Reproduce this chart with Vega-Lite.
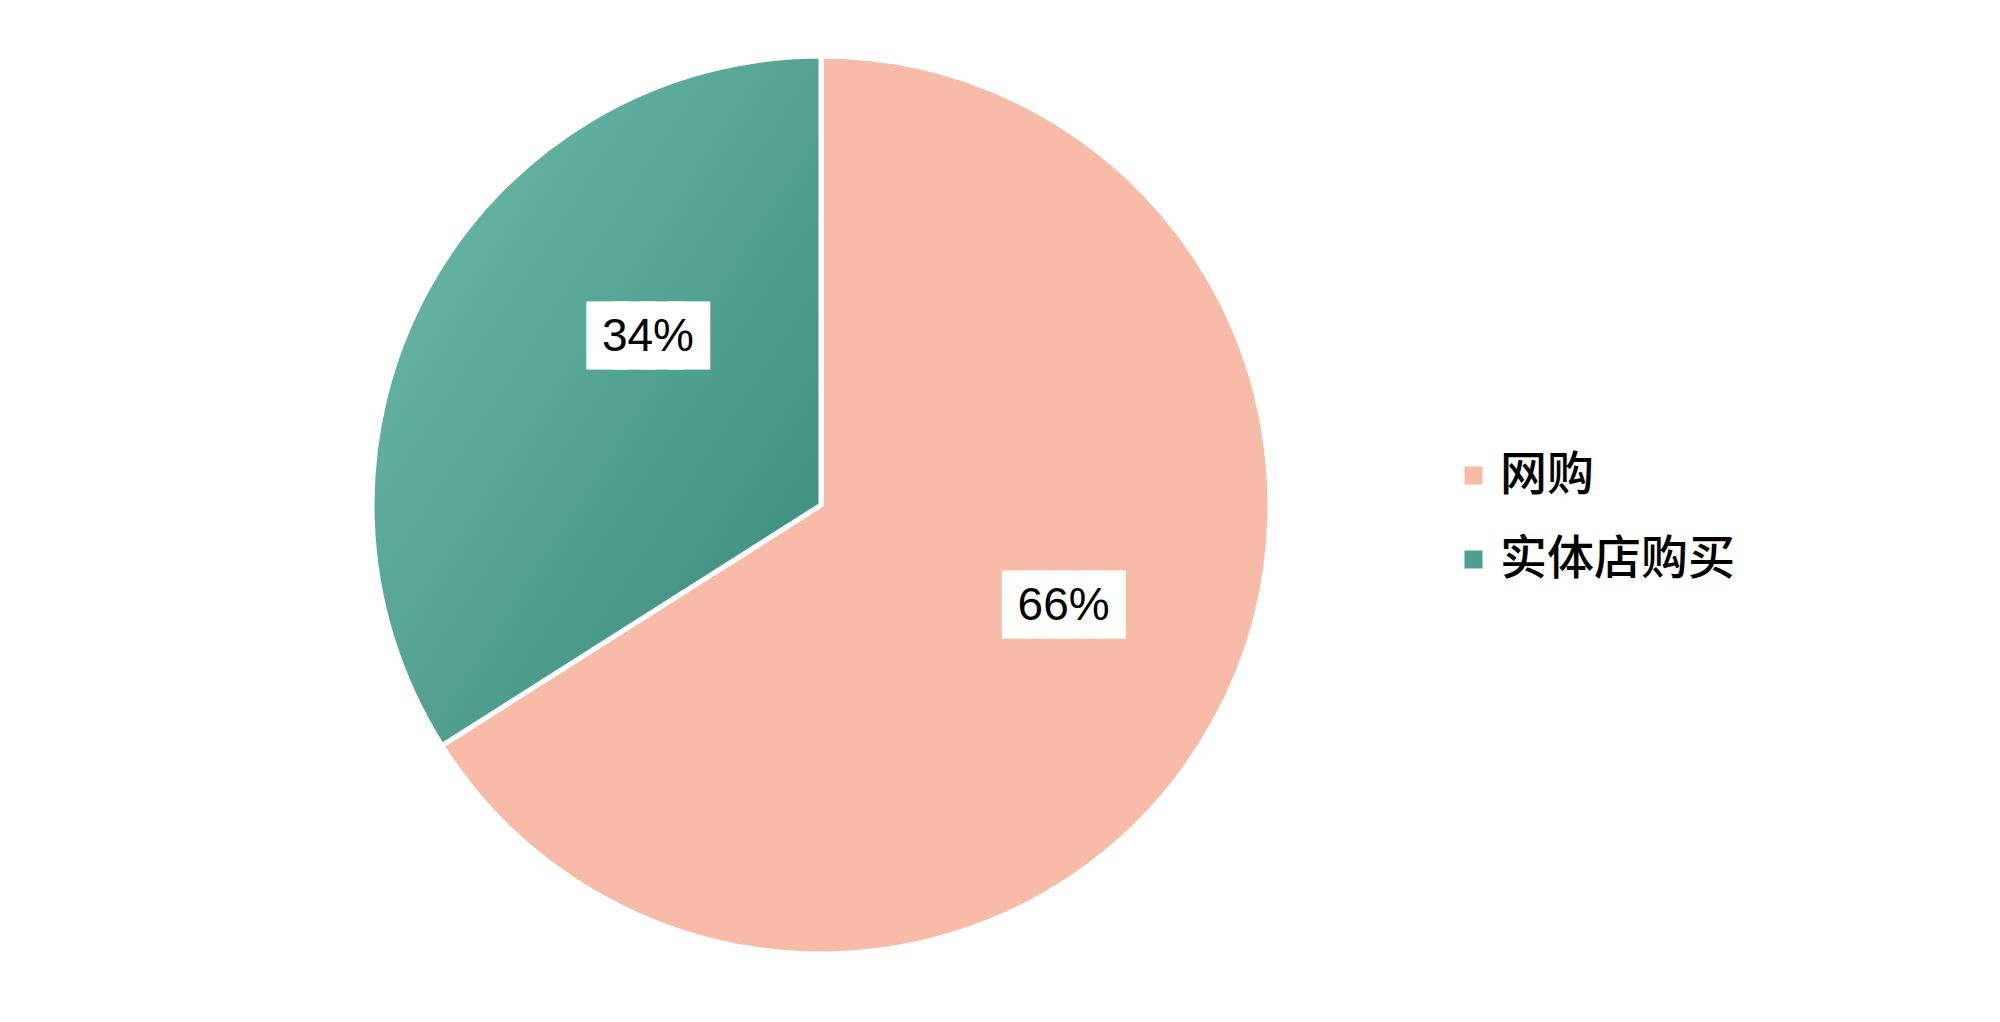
{
  "$schema": "https://vega.github.io/schema/vega-lite/v6.json",
  "width": 1636,
  "height": 1004,
  "autosize": {"type": "none"},
  "padding": {"left": 3, "top": 3, "right": 361, "bottom": 15},
  "background": "#ffffff",
  "config": {"view": {"stroke": null}},
  "data": {
    "values": [
      {"category": "网购", "value": 66, "order": 1, "label": "66%"},
      {"category": "实体店购买", "value": 34, "order": 2, "label": "34%"}
    ]
  },
  "encoding": {
    "theta": {"field": "value", "type": "quantitative", "stack": true},
    "order": {"field": "order", "type": "quantitative"}
  },
  "layer": [
    {
      "mark": {"type": "arc", "outerRadius": 449, "stroke": "#ffffff", "strokeWidth": 5},
      "encoding": {
        "color": {
          "field": "category",
          "type": "nominal",
          "scale": {"domain": ["网购", "实体店购买"], "range": ["#F8BBA8", "#4E9F8F"]},
          "legend": {
            "title": null,
            "orient": "none",
            "legendX": 1447,
            "legendY": 449,
            "padding": 0,
            "symbolType": "square",
            "symbolSize": 324,
            "symbolStrokeWidth": 0,
            "labelFont": "Noto Sans CJK SC",
            "labelFontSize": 47,
            "labelFontWeight": 500,
            "labelColor": "#000000",
            "labelOffset": 3,
            "rowPadding": 36,
            "labelLimit": 400
          }
        }
      }
    },
    {
      "mark": {
        "type": "arc",
        "outerRadius": 449,
        "stroke": "#ffffff",
        "strokeWidth": 5,
        "fill": {
          "gradient": "linear",
          "x1": 0, "y1": 0, "x2": 1, "y2": 1,
          "stops": [
            {"offset": 0, "color": "#6FBDAD"},
            {"offset": 1, "color": "#388978"}
          ]
        }
      },
      "encoding": {
        "opacity": {"condition": {"test": "datum.category === '实体店购买'", "value": 1}, "value": 0}
      }
    },
    {
      "mark": {"type": "text", "radius": 242, "dx": 39, "dy": -51, "text": "████", "font": "DejaVu Sans Mono", "fontSize": 45, "fill": "#ffffff", "stroke": "#ffffff", "strokeWidth": 14.6, "strokeJoin": "miter", "align": "center", "baseline": "middle"},
      "encoding": {
        "opacity": {"condition": {"test": "datum.category === '实体店购买'", "value": 1}, "value": 0}
      }
    },
    {
      "mark": {"type": "text", "radius": 242, "dx": 39, "dy": -51, "font": "Liberation Sans", "fontSize": 46, "fill": "#000000", "align": "center", "baseline": "middle"},
      "encoding": {
        "text": {"field": "label", "type": "nominal"},
        "opacity": {"condition": {"test": "datum.category === '实体店购买'", "value": 1}, "value": 0}
      }
    },
    {
      "mark": {"type": "text", "radius": 262, "dx": 13, "dy": -25, "text": "████", "font": "DejaVu Sans Mono", "fontSize": 45, "fill": "#ffffff", "stroke": "#ffffff", "strokeWidth": 14.6, "strokeJoin": "miter", "align": "center", "baseline": "middle"},
      "encoding": {
        "opacity": {"condition": {"test": "datum.category === '网购'", "value": 1}, "value": 0}
      }
    },
    {
      "mark": {"type": "text", "radius": 262, "dx": 13, "dy": -25, "font": "Liberation Sans", "fontSize": 46, "fill": "#000000", "align": "center", "baseline": "middle"},
      "encoding": {
        "text": {"field": "label", "type": "nominal"},
        "opacity": {"condition": {"test": "datum.category === '网购'", "value": 1}, "value": 0}
      }
    }
  ]
}
